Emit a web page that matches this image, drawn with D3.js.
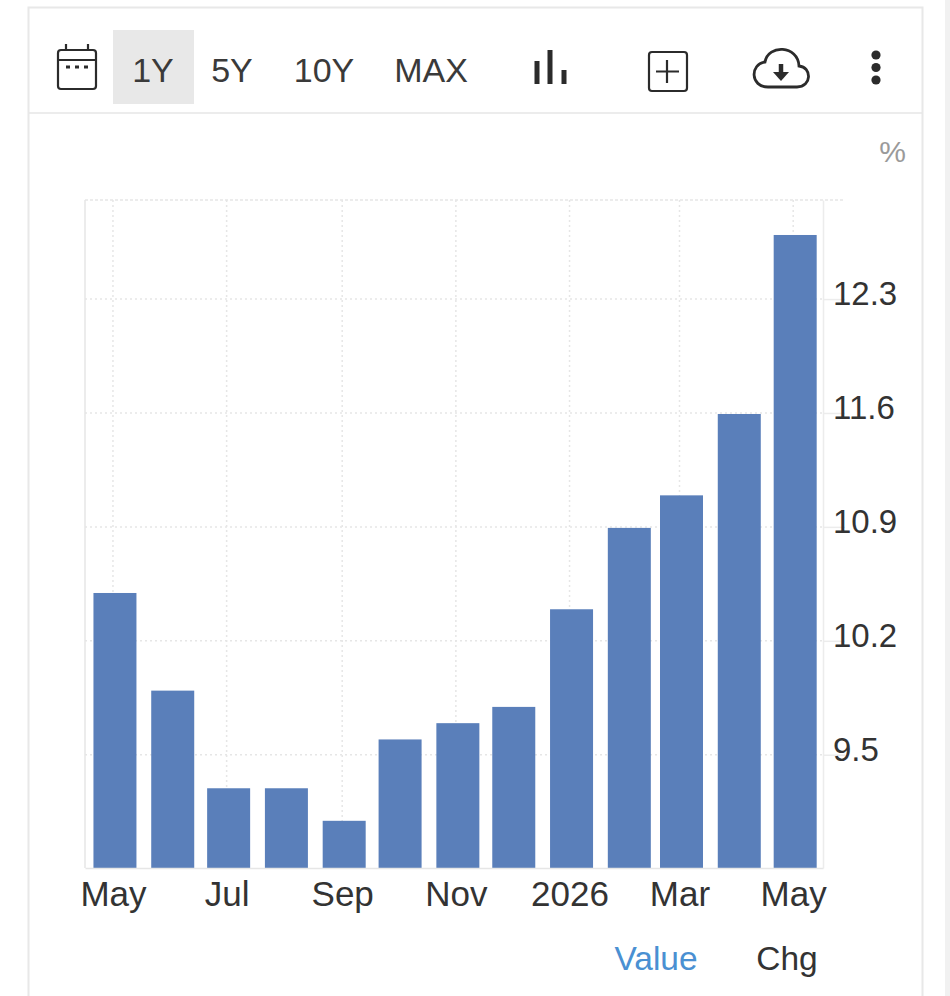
<!DOCTYPE html>
<html>
<head>
<meta charset="utf-8">
<script src="https://cdn.jsdelivr.net/npm/d3@7"></script>
<style>
html, body { margin: 0; padding: 0; background: #fff; overflow: hidden; }
text { font-family: "Liberation Sans", Arial, sans-serif; }
</style>
</head>
<body>
<script>
// data
var months = ["2025-05-01","2025-06-01","2025-07-01","2025-08-01","2025-09-01","2025-10-01","2025-11-01","2025-12-01","2026-01-01","2026-02-01","2026-03-01","2026-04-01","2026-05-01"];
var values = [10.5, 9.9, 9.3, 9.3, 9.1, 9.6, 9.7, 9.8, 10.4, 10.9, 11.1, 11.6, 12.7];
var yTicks = [9.5, 10.2, 10.9, 11.6, 12.3];
var xTicks = ["2025-05-01","2025-07-01","2025-09-01","2025-11-01","2026-01-01","2026-03-01","2026-05-01"];
var xLabels = ["May","Jul","Sep","Nov","2026","Mar","May"];
var ranges = ["1Y","5Y","10Y","MAX"];
var rangeX = [153,232,324,431];
var tabs = ["Value","Chg"];

var parse = d3.utcParse("%Y-%m-%d");

var margin = {top : 200, bottom : 128, left : 85, right : 127};
var width = 950, height = 996;
var plotLeft = margin.left, plotRight = width - margin.right;

var svg = d3.select("body").append("svg")
    .attr("width",width)
    .attr("height",height)
    .style("display","block");

// page and card
svg.append("rect").attr("x",945).attr("y",0).attr("width",5).attr("height",height).attr("fill","#f1f1f1");
svg.append("path")
    .attr("d","M28.5,996V7.5H922.5V996")
    .attr("fill","none").attr("stroke","#e8e8e8").attr("stroke-width",2);
svg.append("line").attr("x1",29).attr("x2",922).attr("y1",113).attr("y2",113).attr("stroke","#e6e6e6").attr("stroke-width",1.5);

// toolbar
var bar = svg.append("g").attr("class","toolbar");
bar.append("rect").attr("x",113).attr("y",30).attr("width",81).attr("height",74).attr("fill","#e8e8e8");
bar.selectAll("text").data(ranges).join("text")
    .attr("x",function(d,i){return rangeX[i]})
    .attr("y",82)
    .attr("text-anchor","middle")
    .attr("font-size",34)
    .attr("fill","#3a3a3a")
    .text(function(d){return d});

var icons = bar.append("g").attr("fill","none").attr("stroke","#2b2b2b").attr("stroke-width",2.2);
// calendar
icons.append("rect").attr("x",58).attr("y",50).attr("width",38).attr("height",39).attr("rx",3);
icons.append("path").attr("d","M58,60H96M66,44V50M88,44V50");
icons.append("path").attr("d","M66,67H70M75,67H79M84,67H88").attr("stroke-width",3);
// bars icon
icons.append("path").attr("d","M537,84V61M550,84V50M564,84V70").attr("stroke-width",5);
// plus box
icons.append("rect").attr("x",649).attr("y",52).attr("width",38).attr("height",39).attr("rx",3);
icons.append("path").attr("d","M667,60V83M656,71.5H679");
// cloud
icons.append("path").attr("d","M768,87H797C812,87 812,67 799,66C798,45 768,44 765,62C750,64 750,87 768,87Z").attr("stroke-width",2.8);
icons.append("path").attr("d","M781,64V73").attr("stroke-width",4.5);
icons.append("path").attr("d","M773,72H789L781,81Z").attr("fill","#2b2b2b").attr("stroke","none");
// dots
bar.selectAll("circle.dot").data([55,67.5,80]).join("circle")
    .attr("class","dot").attr("cx",876).attr("cy",function(d){return d}).attr("r",4.6).attr("fill","#2b2b2b");

// unit
svg.append("text").attr("x",906).attr("y",162).attr("text-anchor","end")
    .attr("font-size",30).attr("fill","#9a9a9a").text("%");

// scales
var x = d3.scaleUtc()
    .domain([d3.utcDay.offset(parse(months[0]),-15), d3.utcDay.offset(parse(months[12]),16)])
    .range([plotLeft + 2, plotRight + 2]);
var y = d3.scaleLinear()
    .domain([8.81,12.915])
    .range([height - margin.bottom, margin.top]);

// gridlines
var grid = svg.append("g").attr("class","grid").attr("stroke","#e6e6e6").attr("stroke-width",1.5);
grid.selectAll("line.v").data(xTicks).join("line")
    .attr("class","v")
    .attr("x1",function(d){return x(parse(d))-2}).attr("x2",function(d){return x(parse(d))-2})
    .attr("y1",margin.top).attr("y2",height - margin.bottom)
    .attr("stroke-dasharray","2,3");
grid.selectAll("line.h").data(yTicks).join("line")
    .attr("class","h")
    .attr("x1",plotLeft).attr("x2",plotRight)
    .attr("y1",function(d){return y(d)-1}).attr("y2",function(d){return y(d)-1})
    .attr("stroke-dasharray","2,3");
grid.append("line").attr("x1",plotLeft).attr("x2",845).attr("y1",margin.top).attr("y2",margin.top).attr("stroke-dasharray","3,2");

// bars
svg.append("g").attr("class","bars").selectAll("rect").data(values).join("rect")
    .attr("x",function(d,i){return x(parse(months[i]))-21.5})
    .attr("width",43)
    .attr("y",function(d){return y(d)})
    .attr("height",function(d){return y.range()[0]-y(d)})
    .attr("fill","#5a7fba");

// axes
var xAxis = d3.axisBottom(x)
    .tickValues(xTicks.map(parse))
    .tickSize(0)
    .tickSizeOuter(0)
    .tickPadding(13)
    .tickFormat(function(d,i){return xLabels[i]});
var gx = svg.append("g").attr("transform","translate(-2,"+(height - margin.bottom)+")").call(xAxis);
gx.select(".domain").attr("stroke","#e6e6e6").attr("stroke-width",1.5);
gx.selectAll("text").attr("font-size",35).attr("fill","#333").attr("font-family","Liberation Sans");

var yAxis = d3.axisRight(y)
    .tickValues(yTicks)
    .tickSize(22)
    .tickSizeOuter(0)
    .tickFormat(d3.format(".1f"));
var gy = svg.append("g").attr("transform","translate("+plotRight+",0)").call(yAxis);
gy.select(".domain").attr("stroke","#ececec").attr("stroke-width",1.5);
gy.selectAll("line").attr("stroke","#ececec").attr("stroke-width",1.5).attr("transform","translate(0,-1)");
gy.selectAll("text").attr("font-size",33).attr("fill","#333").attr("font-family","Liberation Sans").attr("x",10).attr("dy","0.32em").attr("transform","translate(0,-6)");

// left axis line
svg.append("line").attr("x1",plotLeft).attr("x2",plotLeft).attr("y1",margin.top).attr("y2",height - margin.bottom).attr("stroke","#e6e6e6").attr("stroke-width",1.5);

// tabs under the chart
svg.selectAll("text.tab").data(tabs).join("text")
    .attr("class","tab")
    .attr("x",function(d,i){return i==0 ? 656 : 787})
    .attr("y",970)
    .attr("text-anchor","middle")
    .attr("font-size",33.5)
    .attr("fill",function(d,i){return i==0 ? "#4a90d2" : "#333"})
    .text(function(d){return d});
</script>
</body>
</html>
